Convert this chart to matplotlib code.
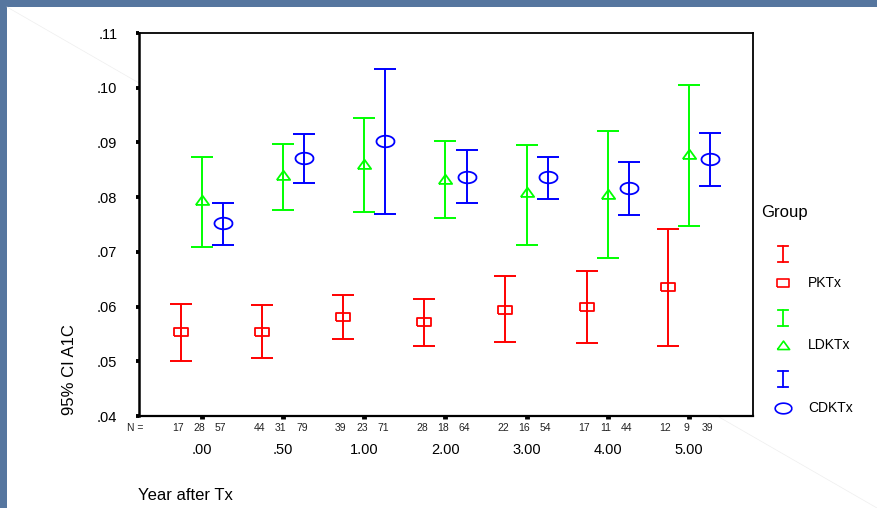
import numpy as np
import matplotlib
matplotlib.use("Agg")
import matplotlib.pyplot as plt
from matplotlib.lines import Line2D
from matplotlib.patches import Rectangle
from matplotlib.transforms import blended_transform_factory

plt.rcParams['font.family'] = ['Liberation Sans', 'DejaVu Sans']

# Dati
years = [".00", ".50", "1.00", "2.00", "3.00", "4.00", "5.00"]
groups = ["PKTx", "LDKTx", "CDKTx"]

pktx_mean = [0.0553, 0.0553, 0.0581, 0.0572, 0.0594, 0.0599, 0.0635]
pktx_low = [0.0500, 0.0506, 0.0540, 0.0528, 0.0535, 0.0533, 0.0528]
pktx_high = [0.0605, 0.0602, 0.0621, 0.0613, 0.0655, 0.0665, 0.0742]
pktx_n = [17, 44, 39, 28, 22, 17, 12]

ldktx_mean = [0.0795, 0.0840, 0.0861, 0.0834, 0.0810, 0.0806, 0.0879]
ldktx_low = [0.0709, 0.0776, 0.0772, 0.0762, 0.0713, 0.0689, 0.0747]
ldktx_high = [0.0874, 0.0898, 0.0945, 0.0903, 0.0896, 0.0920, 0.1005]
ldktx_n = [28, 31, 23, 18, 16, 11, 9]

cdktx_mean = [0.0752, 0.0872, 0.0903, 0.0837, 0.0836, 0.0816, 0.0869]
cdktx_low = [0.0713, 0.0825, 0.0769, 0.0789, 0.0796, 0.0767, 0.0820]
cdktx_high = [0.0789, 0.0915, 0.1035, 0.0886, 0.0874, 0.0865, 0.0918]
cdktx_n = [57, 79, 71, 64, 54, 44, 39]

y_ticks = [0.04, 0.05, 0.06, 0.07, 0.08, 0.09, 0.10, 0.11]

# Marcatori SPSS (schiacciati in verticale)
square = [(-0.5, -0.33), (0.5, -0.33), (0.5, 0.33), (-0.5, 0.33), (-0.5, -0.33)]
triangle = [(-0.5, -0.33), (0.5, -0.33), (0.0, 0.36), (-0.5, -0.33)]
t = np.linspace(0, 2 * np.pi, 41)
ellipse = list(zip(0.5 * np.cos(t), 0.32 * np.sin(t)))

series = [
    (pktx_mean, pktx_low, pktx_high, pktx_n, "#ff0000", square, 9.4, -0.26),
    (ldktx_mean, ldktx_low, ldktx_high, ldktx_n, "#00ff00", triangle, 9.6, 0.0),
    (cdktx_mean, cdktx_low, cdktx_high, cdktx_n, "#0000ff", ellipse, 13, 0.26),
]

W, H = 877, 508
fig = plt.figure(figsize=(W / 100, H / 100), dpi=100)
fig.patch.set_facecolor("#56769f")

# Sfondo bianco della slide
fig.patches.append(Rectangle((7 / W, 0), 1, 1 - 7 / H, transform=fig.transFigure,
                             facecolor="white", edgecolor="none", zorder=-2))
fig.add_artist(Line2D([7 / W, 1], [1 - 7 / H, 0], transform=fig.transFigure,
                      color="#eeeeee", lw=0.5, zorder=-1))

ax = fig.add_axes([139 / W, 1 - 416 / H, 614 / W, 383 / H])
ax.set_facecolor("white")

x = np.arange(len(years))
for mean, low, high, n, color, marker, ms, off in series:
    mean = np.array(mean)
    yerr = [mean - np.array(low), np.array(high) - mean]
    ax.errorbar(x + off, mean, yerr=yerr, fmt="none", ecolor=color,
                elinewidth=1.4, capsize=8, capthick=1.4)
    ax.plot(x + off, mean, linestyle="none", marker=marker, markersize=ms,
            markerfacecolor="none", markeredgecolor=color, markeredgewidth=1.3)

ax.set_xlim(-0.776, 6.79)
ax.set_ylim(0.04, 0.11)
ax.set_yticks(y_ticks)
ax.set_yticklabels([("%.2f" % v).lstrip("0") for v in y_ticks], fontsize=10.5)
ax.set_xticks(x)
ax.tick_params(axis="y", direction="out", length=2.5, width=2.8, pad=13)
ax.tick_params(axis="x", direction="out", length=2.2, width=3.5, labelbottom=False)
for s in ax.spines.values():
    s.set_linewidth(1.3)
ax.spines["left"].set_linewidth(1.8)
ax.spines["bottom"].set_linewidth(1.6)

# Numerosita' e categorie sotto l'asse
tr = blended_transform_factory(ax.transData, ax.transAxes)
for mean, low, high, n, color, marker, ms, off in series:
    for xi, ni in zip(x, n):
        ax.text(xi + off - 0.03, -0.031, str(ni), transform=tr, ha="center",
                va="center", fontsize=7.5, color="#222222")
for xi, lab in zip(x, years):
    ax.text(xi, -0.089, lab, transform=tr, ha="center", va="center", fontsize=10.5)
ax.text(-0.007, -0.031, "N =", transform=ax.transAxes, ha="center", va="center",
        fontsize=7.5, color="#222222")

fig.text(70 / W, 1 - 415 / H, "95% CI A1C", rotation=90, ha="center", va="bottom",
         fontsize=12)
fig.text(138 / W, 1 - 496 / H, "Year after Tx", ha="left", va="center", fontsize=12)

# Legenda disegnata a mano in coordinate pixel
lax = fig.add_axes([0, 0, 1, 1])
lax.set_xlim(0, W)
lax.set_ylim(H, 0)
lax.axis("off")
lax.text(761, 213, "Group", ha="left", va="center", fontsize=12)
leg_y = [(254, 283), (318, 345), (379, 408)]
leg_ms = [8.2, 8.8, 12]
for (mean, low, high, n, color, marker, ms, off), name, (yi, ym), lms in zip(series, groups, leg_y, leg_ms):
    lax.plot([783, 783], [yi - 8, yi + 8], color=color, lw=1.3)
    lax.plot([778, 788], [yi - 8, yi - 8], color=color, lw=1.3)
    lax.plot([778, 788], [yi + 8, yi + 8], color=color, lw=1.3)
    lax.plot([783], [ym], linestyle="none", marker=marker, markersize=lms,
             markerfacecolor="none", markeredgecolor=color, markeredgewidth=1.2)
    lax.text(808, ym, name, ha="left", va="center", fontsize=10)

fig.savefig("out.png", dpi=100, facecolor=fig.get_facecolor())
